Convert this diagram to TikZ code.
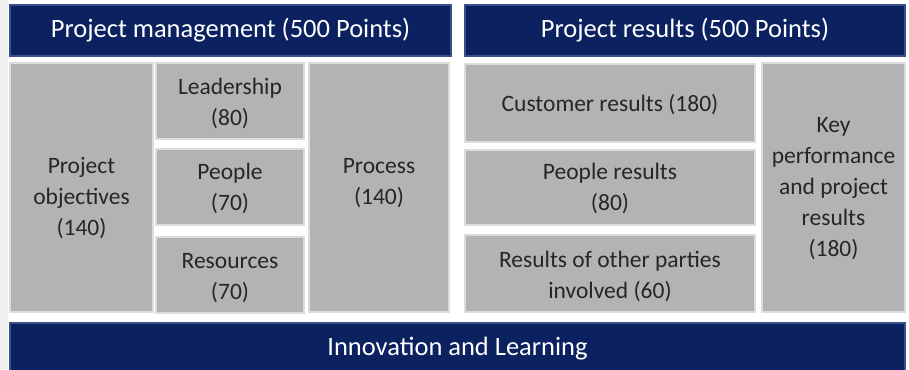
\documentclass[tikz,border=0pt]{standalone}
\usepackage{fontspec}
\setmainfont{Carlito}
\definecolor{navy}{HTML}{0B2160}
\definecolor{navyedge}{HTML}{3B5089}
\definecolor{gfill}{HTML}{B3B3B3}
\definecolor{gedge}{HTML}{DCDCDC}
\definecolor{gtxt}{HTML}{262626}
\definecolor{strip}{HTML}{EFEFEF}
\tikzset{
  hbox/.style={fill=navy, draw=navyedge, line width=1.2pt, text=white, inner sep=0pt,
    font=\fontsize{26.5}{30}\selectfont},
  gbox/.style={fill=gfill, draw=gedge, line width=1.5pt, inner sep=0pt},
  gtext/.style={text=gtxt, inner sep=0pt, align=center, font=\fontsize{23.5}{31}\selectfont},
}
\begin{document}
\begin{tikzpicture}[x=1pt,y=-1pt]
\useasboundingbox (0,0) rectangle (909,369);
\fill[white] (0,0) rectangle (909,369);
\fill[strip] (0,0) rectangle (8,369);
% headers
\node[hbox, minimum width=441, minimum height=51] (lhead) at (230.5,30.5) {Project management (500 Points)};
\node[hbox, minimum width=440, minimum height=51] (rhead) at (685,30.5) {Project results (500 Points)};
% left grey boxes
\node[gbox, minimum width=143, minimum height=249] (obj) at (81.5,187.5) {};
\node[gtext] (objt) at ([yshift=-11pt]obj.center) {Project\\objectives\\(140)};
\node[gbox, minimum width=148, minimum height=76] (lead) at (230,101) {};
\node[gtext] (leadt) at ([yshift=-2.5pt]lead.center) {Leadership\\(80)};
\node[gbox, minimum width=148, minimum height=76] (peop) at (230,187) {};
\node[gtext] (peopt) at ([yshift=-1.5pt]peop.center) {People\\(70)};
\node[gbox, minimum width=148, minimum height=76] (res) at (230,275) {};
\node[gtext] (rest) at ([yshift=-3.5pt]res.center) {Resources\\(70)};
\node[gbox, minimum width=140, minimum height=249] (proc) at (379,187.5) {};
\node[gtext] (proct) at ([yshift=4.5pt]proc.center) {Process\\(140)};
% right grey boxes
\node[gbox, minimum width=290, minimum height=78] (cust) at (610,103) {};
\node[gtext] (custt) at ([yshift=-1.5pt]cust.center) {Customer results (180)};
\node[gbox, minimum width=290, minimum height=75] (pres) at (610,187.5) {};
\node[gtext] (prest) at ([yshift=-1pt]pres.center) {People results\\(80)};
\node[gbox, minimum width=290, minimum height=77] (oth) at (610,273.5) {};
\node[gtext] (otht) at ([yshift=-3pt]oth.center) {Results of other parties\\involved (60)};
\node[gbox, minimum width=143, minimum height=249] (key) at (833.5,187.5) {};
\node[gtext] (keyt) at ([yshift=-1.5pt]key.center) {Key\\performance\\and project\\results\\(180)};
% bottom bar
\node[hbox, minimum width=895, minimum height=48] (inno) at (457.5,347) {};
\node[text=white, inner sep=0pt, font=\fontsize{26.5}{30}\selectfont] (innot) at ([yshift=-1.5pt]inno.center) {Innovation and Learning};
\end{tikzpicture}
\end{document}
